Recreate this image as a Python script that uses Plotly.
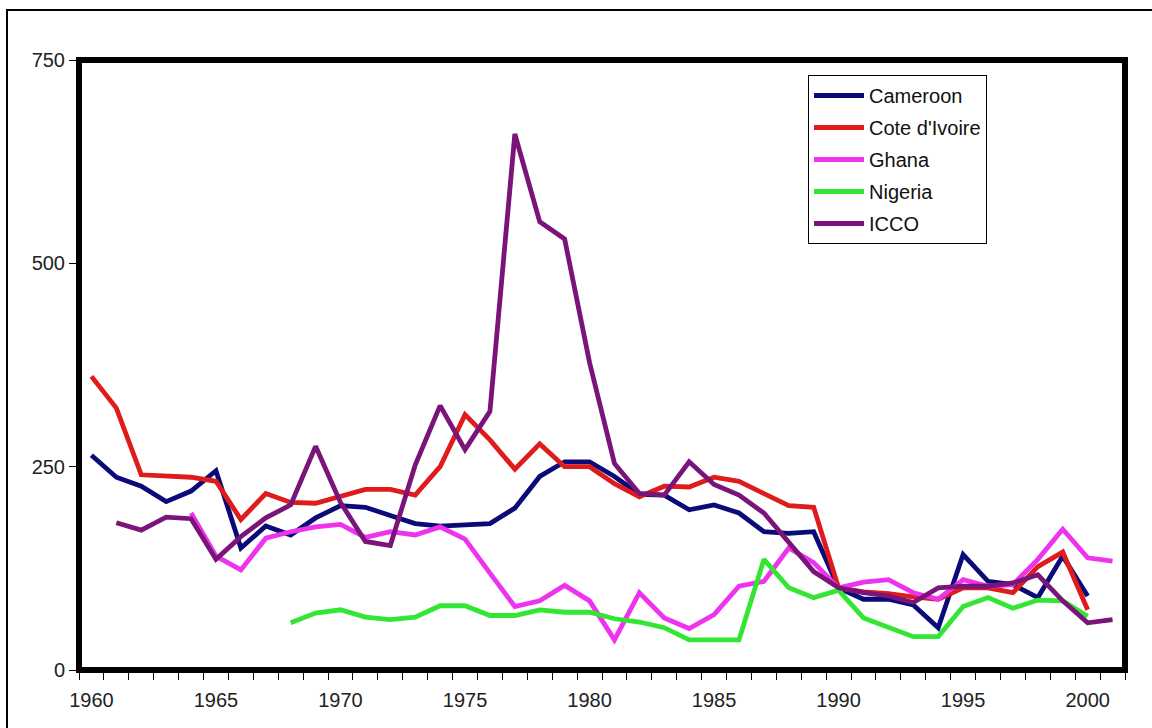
import plotly.graph_objects as go

years = list(range(1960, 2002))

cameroon = [264, 237, 226, 207, 220, 245, 150, 177, 166, 187, 202, 200, 190, 180, 177, 178,
            180, 199, 238, 256, 256, 238, 216, 215, 197, 203, 193, 170, 168, 170, 101, 87,
            87, 80, 52, 142, 109, 105, 89, 140, 91, None]
cote_divoire = [361, 322, 240, 239, 237, 232, 185, 217, 206, 205, 213, 222, 222, 215, 250, 314,
                283, 247, 278, 250, 250, 229, 213, 226, 225, 237, 232, 217, 202, 200, 101, 96,
                94, 90, 87, 101, 101, 95, 127, 145, 74, None]
ghana = [None, None, None, None, 193, 140, 123, 162, 170, 176, 179, 163, 170, 166, 176, 161,
         119, 78, 85, 104, 85, 37, 95, 64, 51, 68, 103, 109, 150, 132, 101, 108,
         111, 95, 87, 111, 103, 105, 136, 173, 138, 134]
nigeria = [None, None, None, None, None, None, None, None, 58, 70, 74, 65, 62, 65, 79, 79,
           67, 67, 74, 71, 71, 63, 59, 52, 37, 37, 37, 136, 101, 89, 98, 64,
           53, 41, 41, 78, 89, 76, 86, 85, 66, None]
icco = [None, 181, 172, 188, 186, 136, 164, 187, 203, 275, 206, 158, 153, 252, 325, 271,
        318, 659, 551, 530, 378, 254, 217, 215, 256, 228, 215, 193, 156, 121, 101, 95,
        91, 83, 101, 103, 103, 107, 117, 85, 58, 62]

series_names = ["Cameroon", "Cote d'Ivoire", "Ghana", "Nigeria", "ICCO"]
series_values = [cameroon, cote_divoire, ghana, nigeria, icco]
series_colors = ["#0A0A78", "#E01B1B", "#EE33EE", "#33E633", "#7A1479"]

x_tick_vals = [1960, 1965, 1970, 1975, 1980, 1985, 1990, 1995, 2000]
y_tick_vals = [0, 250, 500, 750]

fig = go.Figure()
for i, (name, vals, col) in enumerate(zip(series_names, series_values, series_colors)):
    fig.add_trace(go.Scatter(
        x=years, y=vals, name=name, mode="lines",
        line=dict(color=col, width=4.8),
        legendgroup=f"g{i}",
        connectgaps=False,
    ))

L, R, T, B = 79, 27, 60, 58
W, H = 1152, 728
pw = W - L - R
ph = H - T - B

fig.update_layout(
    width=W, height=H,
    margin=dict(l=L, r=R, t=T, b=B, pad=0),
    paper_bgcolor="white",
    plot_bgcolor="white",
    showlegend=True,
    legend=dict(
        x=(808 - L) / pw, y=1 - (75 - T) / ph,
        xanchor="left", yanchor="top",
        bgcolor="white", bordercolor="black", borderwidth=1,
        font=dict(family="Liberation Sans, Arial, sans-serif", size=20, color="#111"),
        traceorder="grouped", tracegroupgap=3,
        itemwidth=50,
    ),
    font=dict(family="Liberation Sans, Arial, sans-serif", size=20, color="#222"),
    xaxis=dict(
        range=[1959.5, 2001.5],
        tickmode="array", tickvals=x_tick_vals,
        ticks="outside", ticklen=12, tickcolor="rgba(0,0,0,0)",
        showgrid=False, zeroline=False, showline=False,
        tickfont=dict(size=20, color="#222"),
        minor=dict(tick0=1959.5, dtick=1, ticks="outside", ticklen=9,
                   tickcolor="black", tickwidth=1, showgrid=False),
    ),
    yaxis=dict(
        range=[0, 750],
        tickmode="array", tickvals=y_tick_vals,
        ticks="outside", ticklen=9, tickcolor="black", tickwidth=1,
        showgrid=False, zeroline=False, showline=False,
        tickfont=dict(size=20, color="#222"),
    ),
    shapes=[
        dict(type="rect", xref="paper", yref="paper", x0=0, x1=1, y0=0, y1=1,
             line=dict(color="black", width=6), fillcolor="rgba(0,0,0,0)", layer="above"),
        dict(type="rect", xref="paper", yref="paper",
             x0=(7 - L) / pw, x1=(1165 - L) / pw,
             y0=-(760 - (H - B)) / ph,
             y1=1 + (T - 10) / ph,
             line=dict(color="black", width=2), fillcolor="rgba(0,0,0,0)", layer="above"),
    ],
)

fig.write_html(
    "out.html",
    config={"displayModeBar": False},
    post_script="document.body.style.margin='0';document.body.style.overflow='hidden';",
)
